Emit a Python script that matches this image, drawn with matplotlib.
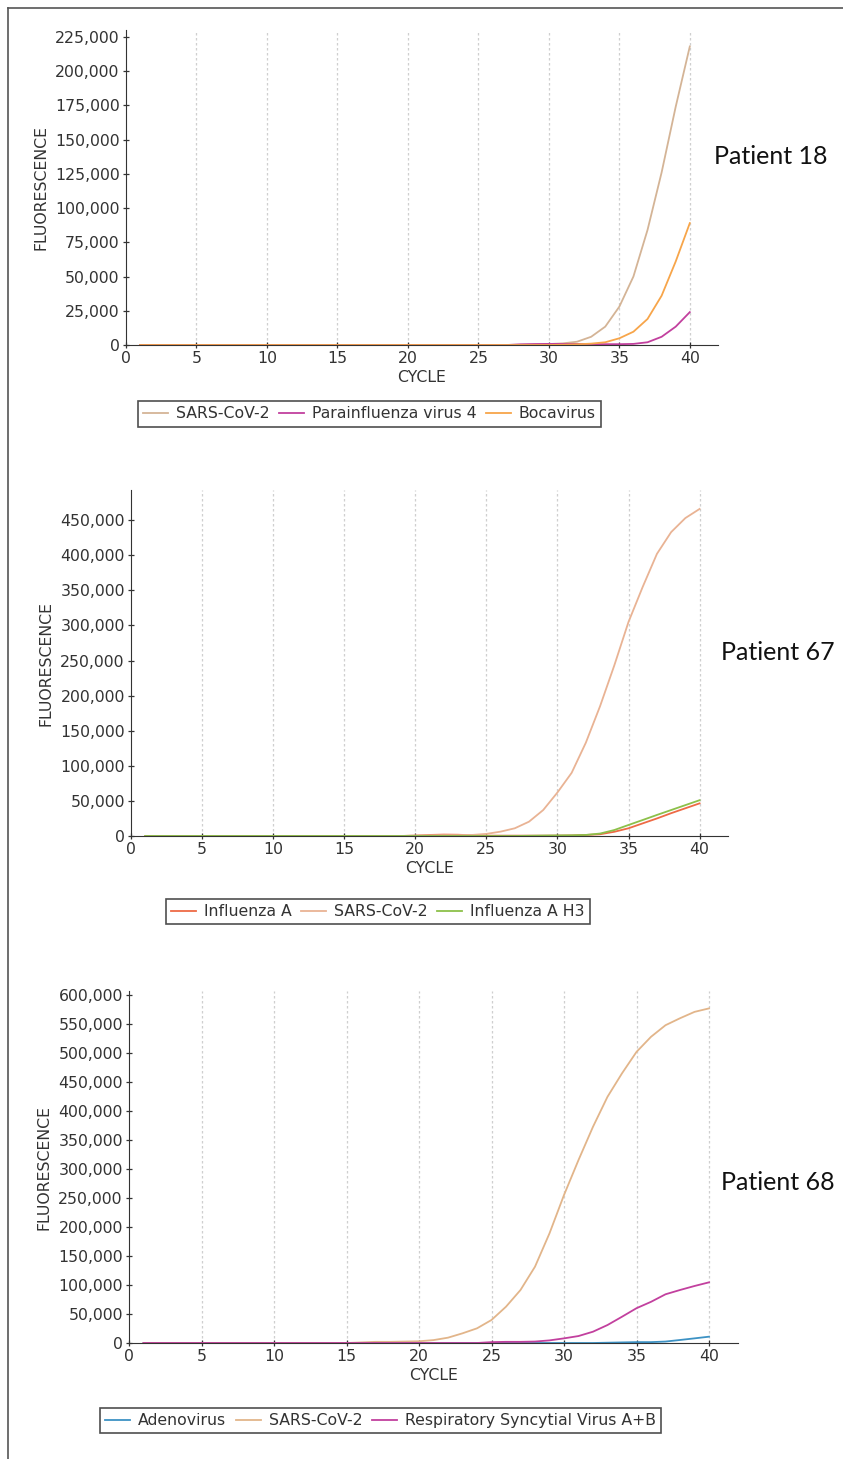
import numpy as np
import matplotlib
matplotlib.use("Agg")
import matplotlib.pyplot as plt
from matplotlib.ticker import StrMethodFormatter
from matplotlib.lines import Line2D

plt.rcParams["font.family"] = ["DejaVu Sans"]

cycles = list(range(1, 41))

# Patient 18
sars_18 = [0] * 27 + [200, 400, 700, 1200, 2400, 6000, 13400, 28000, 50000,
                      84000, 126000, 174000, 218000]
para4_18 = [0] * 27 + [500, 700, 800, 800, 800, 700, 600, 600, 800,
                       2000, 6000, 13400, 24000]
boca_18 = [0] * 30 + [200, 500, 1000, 2000, 4900, 9700, 19000, 36000, 61000, 89000]

# Patient 67
flua_67 = [0] * 19 + [500, 1500, 2000, 1800, 1000, 500, 500, 500, 500, 500, 600,
                      800, 1500, 2500, 6000, 11000, 18000, 25000, 32500, 39500, 46500]
sars_67 = [0] * 19 + [800, 1000, 1200, 1200, 1500, 3000, 6200, 11000, 20400, 37000,
                      62000, 90000, 133000, 185000, 243000, 305000, 355000, 402000,
                      433000, 453000, 466000]
h3_67 = [0] * 27 + [300, 600, 800, 1000, 1500, 3500, 8500, 15700, 22800, 30000,
                    37000, 44000, 51000]

# Patient 68
adeno_68 = [0] * 32 + [500, 1000, 1500, 1500, 2500, 5200, 8000, 10900]
sars_68 = [0] * 15 + [1000, 2000, 2000, 2500, 3000, 5000, 9200, 16700, 25300, 39700,
                      62600, 91400, 131600, 189100, 255200, 315500, 372900, 424600,
                      465000, 502000, 528000, 548000, 560000, 571000, 577000]
rsv_68 = [0] * 24 + [1500, 2000, 2000, 2500, 4500, 8000, 12000, 19500, 31000, 45300,
                     60000, 71000, 84000, 91400, 98300, 104600]

W, H = 843, 1459
fig = plt.figure(figsize=(W / 100, H / 100), dpi=100)
fs = 11.3

panels = [
    dict(rect=(126, 30, 718, 345), ylim=230000, yticks=np.arange(0, 225001, 25000),
         series=[("SARS-CoV-2", sars_18, "#d4b496"),
                 ("Parainfluenza virus 4", para4_18, "#c2409e"),
                 ("Bocavirus", boca_18, "#f7a54a")],
         leg=(369.5, 414), label="Patient 18", lab=(714, 157)),
    dict(rect=(131, 490, 728, 836), ylim=493000, yticks=np.arange(0, 450001, 50000),
         series=[("Influenza A", flua_67, "#ee6a45"),
                 ("SARS-CoV-2", sars_67, "#e9b394"),
                 ("Influenza A H3", h3_67, "#8cc04a")],
         leg=(378, 911.5), label="Patient 67", lab=(721, 652)),
    dict(rect=(129, 991, 738, 1343), ylim=607000, yticks=np.arange(0, 600001, 50000),
         series=[("Adenovirus", adeno_68, "#3d92c4"),
                 ("SARS-CoV-2", sars_68, "#e2b58a"),
                 ("Respiratory Syncytial Virus A+B", rsv_68, "#c2409e")],
         leg=(380.5, 1420.5), label="Patient 68", lab=(721, 1182)),
]

for p in panels:
    x0, y0, x1, y1 = p["rect"]
    ax = fig.add_axes([x0 / W, 1 - y1 / H, (x1 - x0) / W, (y1 - y0) / H])
    for name, vals, col in p["series"]:
        ax.plot(cycles, vals, color=col, lw=1.3, label=name)
    ax.set_xlim(0, 42)
    ax.set_ylim(0, p["ylim"])
    ax.set_xticks(range(0, 41, 5))
    ax.set_yticks(p["yticks"])
    ax.yaxis.set_major_formatter(StrMethodFormatter("{x:,.0f}"))
    for gx in range(5, 41, 5):
        ax.axvline(gx, color="#cfcfcf", lw=0.9, ls=(0, (2, 2)), zorder=0)
    ax.spines["top"].set_visible(False)
    ax.spines["right"].set_visible(False)
    ax.spines["left"].set_color("#333333")
    ax.spines["bottom"].set_color("#333333")
    ax.tick_params(direction="inout", length=5, width=0.9, colors="#333333",
                   labelsize=fs, pad=2)
    ax.set_xlabel("CYCLE", fontsize=fs, color="#333333", labelpad=3)
    ax.set_ylabel("FLUORESCENCE", fontsize=fs, color="#333333", labelpad=5)
    leg = ax.legend(loc="center", bbox_to_anchor=(p["leg"][0] / W, 1 - p["leg"][1] / H),
                    bbox_transform=fig.transFigure, ncol=3, fontsize=fs,
                    frameon=True, fancybox=False, handlelength=1.6,
                    handletextpad=0.5, columnspacing=0.6, borderpad=0.35)
    leg.get_frame().set_edgecolor("#222222")
    leg.get_frame().set_linewidth(1.2)
    for t in leg.get_texts():
        t.set_color("#333333")
    fig.text(p["lab"][0] / W, 1 - p["lab"][1] / H, p["label"], fontsize=18,
             family="Lato", va="center", ha="left", color="#111111")

# outer frame lines
fig.add_artist(Line2D([7.5 / W, 7.5 / W], [0, 1 - 7.5 / H], transform=fig.transFigure,
                      color="#555555", lw=1.2))
fig.add_artist(Line2D([7.5 / W, 1], [1 - 7.5 / H, 1 - 7.5 / H], transform=fig.transFigure,
                      color="#555555", lw=1.2))

fig.savefig("out.png", dpi=100)
